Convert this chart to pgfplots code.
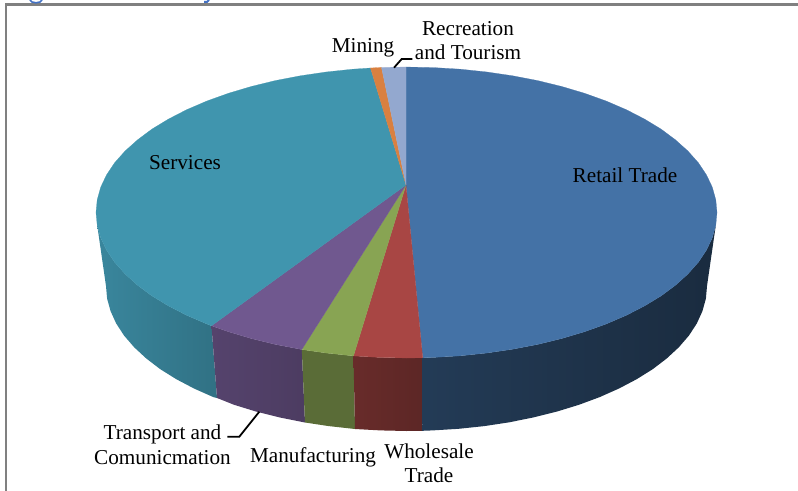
\documentclass[border=0pt]{standalone}
\usepackage{pgfplots}
\pgfplotsset{compat=1.18}
\usepackage{fontspec}
\setmainfont{Liberation Serif}

\definecolor{cblue}{HTML}{4472A6}
\definecolor{cred}{HTML}{A84644}
\definecolor{cgreen}{HTML}{88A453}
\definecolor{cpurple}{HTML}{70588F}
\definecolor{cteal}{HTML}{4095AE}
\definecolor{corange}{HTML}{D98040}
\definecolor{clight}{HTML}{93A8CF}
\definecolor{cframe}{HTML}{808080}
\definecolor{chead}{HTML}{4472C4}
\tikzset{lab/.style={font=\fontsize{21.2bp}{24bp}\selectfont, anchor=base, inner sep=0pt, text=black}}

\begin{document}
\begin{tikzpicture}
\begin{axis}[
  scale only axis, width=798bp, height=491bp,
  xmin=0, xmax=798, ymin=0, ymax=491, y dir=reverse,
  ticks=none, axis line style={draw=none}, no markers,
]
% frame and what is left of the cut-off heading
\addplot[color=cframe, line width=2.2bp] coordinates {(6,491) (6,4.5) (798,4.5)};
\addplot[color=chead, line width=1.6bp] coordinates {(30,0) (32,2) (36,2.8) (40,2) (42,0)};
\addplot[color=chead, line width=2bp] coordinates {(204,2) (207,2) (209,0)};

% side walls, x and y in pixels of the reference
\addplot[draw=none, left color=cteal!90!black, right color=cteal!76!black] coordinates {
(211.5,325.8) (206.9,324) (186.9,315.4) (168.6,306) (152.1,296) (137.6,285.3) (125.1,274)
(114.7,262.3) (106.6,250.2) (100.7,237.8) (97.2,225.2) (106,286) (107.1,298.6) (110.6,311.2)
(116.2,323.5) (124.1,335.6) (134.2,347.3) (146.3,358.5) (160.3,369.2) (176.3,379.2) (194,388.5)
(213.3,397.1) (217,398) (211.5,325.8)};
\addplot[draw=none, left color=cpurple!76!black, right color=cpurple!68!black] coordinates {
(301.8,349.5) (275.3,344.4) (251.2,338.5) (228.4,331.7) (211.5,325.8) (217,398) (234.1,404.8)
(256.2,411.6) (279.5,417.4) (305,422.5) (301.8,349.5)};
\addplot[draw=none, fill=cgreen!66!black] coordinates {
(353.5,355.9) (326.1,353) (301.8,349.5) (305,422.5) (328.7,426.1) (355,429) (353.5,355.9)};
\addplot[draw=none, left color=cred!62!black, right color=cred!55!black] coordinates {
(422.7,357.8) (406.5,358) (379.4,357.4) (353.5,355.9) (355,429) (380.3,430.4) (406.5,431)
(422.2,430.8) (422.7,357.8)};
\addplot[draw=none, left color=cblue!52!black, right color=cblue!38!black] coordinates {
(422.7,357.8) (433.6,357.4) (460.4,355.8) (486.9,353) (512.7,349.2) (537.7,344.4) (561.8,338.5)
(584.6,331.7) (606.1,324) (626.1,315.4) (644.4,306) (660.9,296) (675.4,285.3) (687.9,274)
(698.3,262.3) (706.4,250.2) (712.3,237.8) (715.8,225.2) (707,286) (705.9,298.6) (702.4,311.2)
(696.8,323.5) (688.9,335.6) (678.8,347.3) (666.7,358.5) (652.7,369.2) (636.7,379.2) (619,388.5)
(599.7,397.1) (578.9,404.8) (556.8,411.6) (533.5,417.4) (509.3,422.3) (484.3,426.1) (458.7,428.8)
(432.7,430.4) (422.2,430.8) (422.7,357.8)};

% top face
\addplot[draw=cblue, line width=0.2bp, fill=cblue] coordinates {
(406,185) (406,67) (433.6,67.6) (460.4,69.2) (486.9,72) (512.7,75.8) (537.7,80.6) (561.8,86.5)
(584.6,93.3) (606.1,101) (626.1,109.6) (644.4,119) (660.9,129) (675.4,139.8) (687.9,151)
(698.3,162.7) (706.4,174.8) (712.3,187.2) (715.8,199.8) (717,212.5) (715.8,225.2) (712.3,237.8)
(706.4,250.2) (698.3,262.3) (687.9,274) (675.4,285.3) (660.9,296) (644.4,306) (626.1,315.4)
(606.1,324) (584.6,331.7) (561.8,338.5) (537.7,344.4) (512.7,349.2) (486.9,353) (460.4,355.8)
(433.6,357.4) (422.7,357.8) (406,185)};
\addplot[draw=cred, line width=0.2bp, fill=cred] coordinates {
(406,185) (422.7,357.8) (406.5,358) (379.4,357.4) (353.5,355.9) (406,185)};
\addplot[draw=cgreen, line width=0.2bp, fill=cgreen] coordinates {
(406,185) (353.5,355.9) (326.1,353) (301.8,349.5) (406,185)};
\addplot[draw=cpurple, line width=0.2bp, fill=cpurple] coordinates {
(406,185) (301.8,349.5) (275.3,344.4) (251.2,338.5) (228.4,331.7) (211.5,325.8) (406,185)};
\addplot[draw=cteal, line width=0.2bp, fill=cteal] coordinates {
(406,185) (211.5,325.8) (206.9,324) (186.9,315.4) (168.6,306) (152.1,296) (137.6,285.3) (125.1,274)
(114.7,262.3) (106.6,250.2) (100.7,237.8) (97.2,225.2) (96,212.5) (97.2,199.8) (100.7,187.2)
(106.6,174.8) (114.7,162.7) (125.1,151) (137.6,139.8) (152.1,129) (168.6,119) (186.9,109.6)
(206.9,101) (228.4,93.3) (251.2,86.5) (275.3,80.6) (300.3,75.8) (326.1,72) (352.6,69.2)
(370.5,68) (406,185)};
\addplot[draw=corange, line width=0.2bp, fill=corange] coordinates {
(406,185) (370.5,68) (381.5,67.4) (406,185)};
\addplot[draw=clight, line width=0.2bp, fill=clight] coordinates {
(406,185) (381.5,67.4) (406,67) (406,185)};

% leader lines
\addplot[color=black, line width=1.8bp] coordinates {(394,67.7) (401.7,59) (412.3,59)};
\addplot[color=black, line width=1.8bp] coordinates {(259.3,411.7) (239.3,436.7) (227.3,436.7)};

% labels
\node[lab] at (axis cs:625,182) {Retail Trade};
\node[lab] at (axis cs:185,169.5) {Services};
\node[lab] at (axis cs:363,52.5) {Mining};
\node[lab] at (axis cs:468,36) {Recreation};
\node[lab] at (axis cs:468,60) {and Tourism};
\node[lab] at (axis cs:162.5,439) {Transport and};
\node[lab] at (axis cs:162.5,464) {Comunicmation};
\node[lab] at (axis cs:313,462) {Manufacturing};
\node[lab] at (axis cs:429,458) {Wholesale};
\node[lab] at (axis cs:429,482.5) {Trade};
\end{axis}
\end{tikzpicture}
\end{document}
